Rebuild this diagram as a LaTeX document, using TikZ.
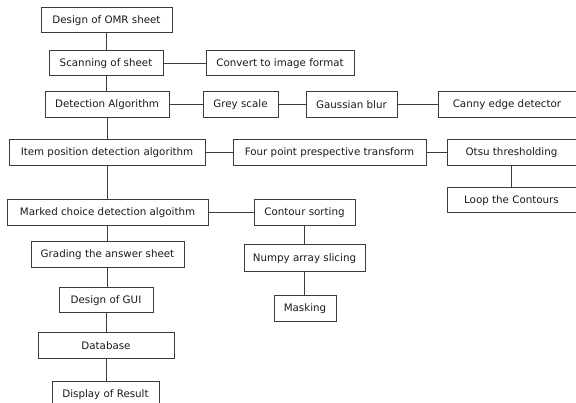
\documentclass[tikz,border=0pt]{standalone}
\usepackage{fontspec}
\setmainfont{DejaVu Sans}
\definecolor{linec}{HTML}{3C3C3C}
\definecolor{txtc}{HTML}{1A1A1A}
\begin{document}
\begin{tikzpicture}[x=1pt,y=-1pt,
  lbl/.style={text=txtc, font=\fontsize{10.3}{12}\selectfont},
  box/.style={draw=linec, line width=1pt, inner sep=0pt, lbl},
  conn/.style={draw=linec, line width=1pt}]
\useasboundingbox (0,0) rectangle (576,403);
\fill[white] (0,0) rectangle (576,403);
\clip (0,0) rectangle (576,403);
% main column
\node[box, minimum width=131pt, minimum height=25pt] (omr) at (106.5,20.5) {Design of OMR sheet};
\node[box, minimum width=114pt, minimum height=25pt] (scan) at (106,63.5) {Scanning of sheet};
\node[box, minimum width=124pt, minimum height=26pt] (det) at (107,105) {Detection Algorithm};
\node[box, minimum width=196pt, minimum height=26pt] (item) at (107,153) {Item position detection algorithm};
\node[box, minimum width=201pt, minimum height=26pt] (marked) at (107.5,212.5) {Marked choice detection algoithm};
\node[box, minimum width=153pt, minimum height=26pt] (grade) at (107.5,255) {Grading the answer sheet};
\node[box, minimum width=94pt, minimum height=25pt] (gui) at (106,300.5) {Design of GUI};
\node[box, minimum width=136pt, minimum height=26pt] (db) at (106,346) {Database};
\node[box, minimum width=107pt, minimum height=26pt] (disp) at (105.5,395) {};
\node[lbl, inner sep=0pt] (disptext) at (105.5,394.5) {Display of Result};
% right branches
\node[box, minimum width=148pt, minimum height=25pt] (conv) at (280,63.5) {Convert to image format};
\node[box, minimum width=75pt, minimum height=26pt] (grey) at (240.5,105) {Grey scale};
\node[box, minimum width=91pt, minimum height=26pt] (gauss) at (351.5,105) {Gaussian blur};
\node[box, minimum width=138pt, minimum height=26pt] (canny) at (507,105) {Canny edge detector};
\node[box, minimum width=193pt, minimum height=26pt] (four) at (329.5,153) {Four point prespective transform};
\node[box, minimum width=129pt, minimum height=26pt] (otsu) at (511.5,153) {Otsu thresholding};
\node[box, minimum width=129pt, minimum height=25pt] (loop) at (511.5,200.5) {Loop the Contours};
\node[box, minimum width=101pt, minimum height=26pt] (csort) at (304.5,212.5) {Contour sorting};
\node[box, minimum width=121pt, minimum height=27pt] (numpy) at (304.5,258.5) {Numpy array slicing};
\node[box, minimum width=62pt, minimum height=26pt] (mask) at (305,309) {Masking};
% spine connectors
\draw[conn] (omr.south) -- (omr.south |- scan.north);
\draw[conn] (scan.south) -- (scan.south |- det.north);
\draw[conn] (det.south) -- (det.south |- item.north);
\draw[conn] (item.south) -- (item.south |- marked.north);
\draw[conn] (marked.south) -- (marked.south |- grade.north);
\draw[conn] (grade.south) -- (grade.south |- gui.north);
\draw[conn] (gui.south) -- (gui.south |- db.north);
\draw[conn] (db.south) -- (db.south |- disp.north);
% horizontal connectors
\draw[conn] (scan.east) -- (conv.west);
\draw[conn] (det.east) -- (grey.west);
\draw[conn] (grey.east) -- (gauss.west);
\draw[conn] (gauss.east) -- (canny.west);
\draw[conn] (item.east) -- (four.west);
\draw[conn] (four.east) -- (otsu.west);
\draw[conn] (marked.east) -- (csort.west);
% branch verticals
\draw[conn] (otsu.south) -- (otsu.south |- loop.north);
\draw[conn] (csort.south) -- (csort.south |- numpy.north);
\draw[conn] (numpy.south) -- (numpy.south |- mask.north);
\end{tikzpicture}
\end{document}
